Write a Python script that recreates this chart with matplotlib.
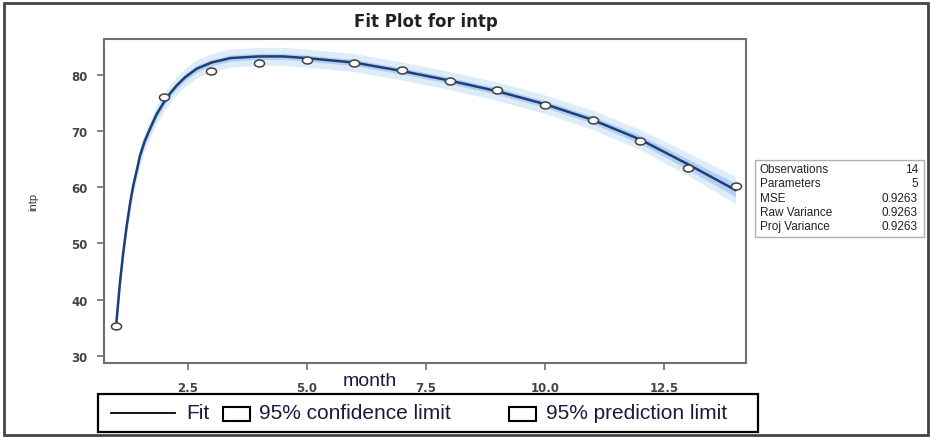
import matplotlib.pyplot as plt
from matplotlib.lines import Line2D
from matplotlib.patches import Rectangle
from matplotlib.markers import MarkerStyle
from matplotlib.transforms import Affine2D

# observed values
month = [1, 2, 3, 4, 5, 6, 7, 8, 9, 10, 11, 12, 13, 14]
intp = [35.3, 76.0, 80.7, 82.2, 82.7, 82.1, 80.8, 79.0, 77.4, 74.6, 72.0, 68.3, 63.4, 60.2]

# fitted curve
fit_month = [1.0, 1.08, 1.15, 1.22, 1.3, 1.36, 1.45, 1.5, 1.6, 1.71, 1.85, 2.0, 2.15, 2.27, 2.45,
             2.69, 3.0, 3.4, 4.0, 4.5, 5.0, 6.0, 7.0, 8.0, 9.0, 10.0, 11.0, 12.0, 13.0, 14.0]
fit_val = [35.3, 43.0, 48.4, 53.0, 57.5, 60.3, 63.6, 65.6, 68.2, 70.4, 73.0, 75.1, 76.9, 78.1, 79.6,
           81.1, 82.2, 83.0, 83.3, 83.3, 83.0, 82.2, 80.7, 79.0, 77.1, 74.8, 72.0, 68.5, 64.1, 59.5]
conf_hw = [0.9, 0.9, 0.85, 0.8, 0.8, 0.8, 0.75, 0.75, 0.7, 0.7, 0.7, 0.65, 0.6, 0.6, 0.6,
           0.6, 0.55, 0.55, 0.55, 0.55, 0.55, 0.55, 0.55, 0.55, 0.6, 0.6, 0.65, 0.75, 0.9, 1.2]
pred_hw = [1.6, 1.6, 1.6, 1.6, 1.6, 1.6, 1.6, 1.6, 1.6, 1.6, 1.6, 1.6, 1.6, 1.6, 1.6,
           1.6, 1.6, 1.6, 1.6, 1.6, 1.6, 1.6, 1.6, 1.6, 1.65, 1.65, 1.7, 1.8, 2.0, 2.4]

stat_names = ["Observations", "Parameters", "MSE", "Raw Variance", "Proj Variance"]
stat_vals = ["14", "5", "0.9263", "0.9263", "0.9263"]
legend_labels = ["Fit", "95% confidence limit", "95% prediction limit"]

W, H = 931, 439
fig = plt.figure(figsize=(W / 100, H / 100), dpi=100)
plt.rcParams['font.family'] = ['Liberation Sans', 'DejaVu Sans']

ax = fig.add_axes([104 / W, 1 - 364 / H, (746 - 104) / W, (364 - 40) / H])

pred_lo = [v - h for v, h in zip(fit_val, pred_hw)]
pred_hi = [v + h for v, h in zip(fit_val, pred_hw)]
conf_lo = [v - h for v, h in zip(fit_val, conf_hw)]
conf_hi = [v + h for v, h in zip(fit_val, conf_hw)]
ax.fill_between(fit_month, pred_lo, pred_hi, color='#deecf9', lw=0)
ax.fill_between(fit_month, conf_lo, conf_hi, color='#b0d1f0', lw=0)
ax.plot(fit_month, fit_val, color='#1f3d78', lw=1.8)
ell = MarkerStyle('o', transform=Affine2D().scale(1.45, 1.0))
ax.plot(month, intp, ls='none', marker=ell, ms=5, mfc='white', mec='#404040', mew=1.1)

ax.set_xlim(0.746, 14.22)
ax.set_ylim(28.7, 86.4)
ax.set_xticks([2.5, 5.0, 7.5, 10.0, 12.5])
ax.set_xticklabels(["2.5", "5.0", "7.5", "10.0", "12.5"])
ax.set_yticks([30, 40, 50, 60, 70, 80])
for s in ax.spines.values():
    s.set_color('#707070')
    s.set_linewidth(1.5)
ax.tick_params(colors='#707070', length=5, width=1.2)
for lab in ax.get_xticklabels() + ax.get_yticklabels():
    lab.set_color('#444444')
    lab.set_fontweight('bold')
    lab.set_fontfamily('DejaVu Sans')
    lab.set_fontsize(8.5)
ax.tick_params(axis='x', pad=8)
ax.tick_params(axis='y', pad=7)

fig.text(426 / W, 1 - 22 / H, "Fit Plot for intp", ha='center', va='center',
         fontsize=12, fontweight='bold', family='DejaVu Sans', color='#222222')
fig.text(33 / W, 1 - 202 / H, "intp", rotation=90, ha='center', va='center',
         fontsize=8, color='#333333')
fig.text(370 / W, 1 - 382 / H, "month", ha='center', va='center', fontsize=14, color='#1a1a40')

# stats table
fig.patches.append(Rectangle((755 / W, 1 - 238 / H), 169 / W, 77 / H, transform=fig.transFigure,
                             fill=False, ec='#b0b0b0', lw=1))
for i in range(len(stat_names)):
    y = 1 - (170 + i * 14.3) / H
    fig.text(760 / W, y, stat_names[i], ha='left', va='center', fontsize=8.5, color='#222222')
    fig.text(918 / W, y, stat_vals[i], ha='right', va='center', fontsize=8.5, color='#222222')

# legend box drawn by hand to match spacing
fig.patches.append(Rectangle((98 / W, 1 - 433 / H), 660 / W, 38 / H, transform=fig.transFigure,
                             fill=False, ec='black', lw=1.6))
ly = 1 - 414 / H
fig.lines.append(Line2D([111 / W, 175 / W], [ly, ly], transform=fig.transFigure, color='black', lw=1.3))
for x0 in (223, 509):
    fig.patches.append(Rectangle((x0 / W, 1 - 422 / H), 27 / W, 14 / H, transform=fig.transFigure,
                                 fc='white', ec='black', lw=1.5))
for x0, lab in zip((186, 259, 546), legend_labels):
    fig.text(x0 / W, ly, lab, ha='left', va='center', fontsize=15, color='#1a1a40')

# outer frame
fig.patches.append(Rectangle((4 / W, 3 / H), 924 / W, 432 / H, transform=fig.transFigure,
                             fill=False, ec='#444444', lw=2))

fig.savefig("out.png", dpi=100)
